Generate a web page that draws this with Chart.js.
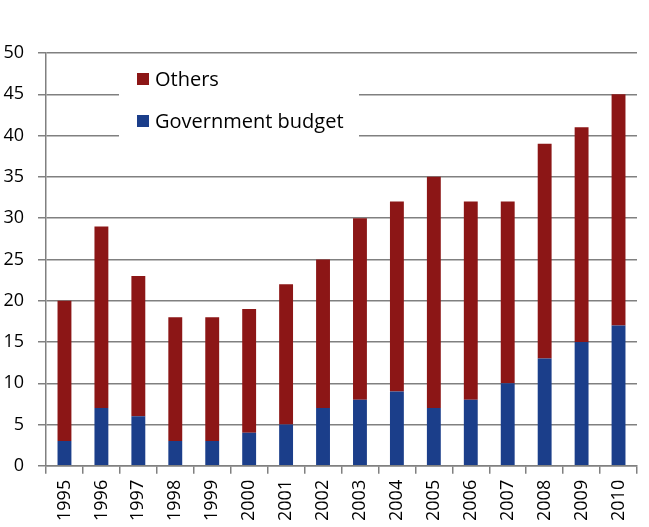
<!DOCTYPE html>
<html><head><meta charset="utf-8">
<script src="https://cdn.jsdelivr.net/npm/chart.js@4"></script>
<style>html,body{margin:0;padding:0;background:#fff}#w{width:649px;height:527px}</style>
</head><body><div id="w"><canvas id="c"></canvas></div>
<script>
const years = ["1995","1996","1997","1998","1999","2000","2001","2002","2003","2004","2005","2006","2007","2008","2009","2010"];
const government = [3,7,6,3,3,4,5,7,8,9,7,8,10,13,15,17];
const others = [17,22,17,15,15,15,17,18,22,23,28,24,22,26,26,28];
const yTicks = [0,5,10,15,20,25,30,35,40,45,50];

const FONT = "'Open Sans', sans-serif";
const RED = '#8c1616', BLUE = '#1b3e8a', GRID = '#808080';

const legendPlugin = {
  id: 'boxLegend',
  beforeDatasetsDraw(chart) {
    const ctx = chart.ctx;
    ctx.save();
    ctx.fillStyle = '#fff';
    ctx.fillRect(119, 62, 240, 82);
    const items = [chart.data.datasets[1], chart.data.datasets[0]];
    ctx.font = "20px " + FONT;
    ctx.textBaseline = 'middle';
    items.forEach((ds, i) => {
      const y = 79 + i * 42;
      ctx.fillStyle = ds.backgroundColor;
      ctx.fillRect(137, y - 6, 12, 12);
      ctx.fillStyle = '#000';
      ctx.fillText(ds.label, 155, y + 1);
    });
    ctx.restore();
  }
};

new Chart(document.getElementById('c'), {
  type: 'bar',
  data: {
    labels: years,
    datasets: [
      {label: 'Government budget', data: government, backgroundColor: BLUE, barPercentage: 0.8, categoryPercentage: 0.47},
      {label: 'Others', data: others, backgroundColor: RED, barPercentage: 0.8, categoryPercentage: 0.47}
    ]
  },
  options: {
    responsive: true, maintainAspectRatio: false, animation: false,
    layout: {padding: {top: 53, right: 12, bottom: 0, left: 3}},
    plugins: {legend: {display: false}, tooltip: {enabled: false}},
    scales: {
      x: {
        stacked: true,
        afterFit(s) { s.paddingLeft = 0; s.paddingRight = 0; },
        grid: {offset: true, drawOnChartArea: false, color: GRID, lineWidth: 1.5, tickLength: 8},
        border: {color: GRID, width: 1.5},
        ticks: {color: '#000', font: {family: FONT, size: 18}, maxRotation: 90, minRotation: 90, padding: 6}
      },
      y: {
        stacked: true, min: 0, max: 50,
        afterBuildTicks(axis) { axis.ticks = yTicks.map(v => ({value: v})); },
        afterFit(s) { s.width = 43; },
        grid: {color: GRID, lineWidth: 1.5, tickLength: 8},
        border: {color: GRID, width: 1.5},
        ticks: {color: '#000', font: {family: FONT, size: 18}, padding: 14}
      }
    }
  },
  plugins: [legendPlugin]
});
</script></body></html>
